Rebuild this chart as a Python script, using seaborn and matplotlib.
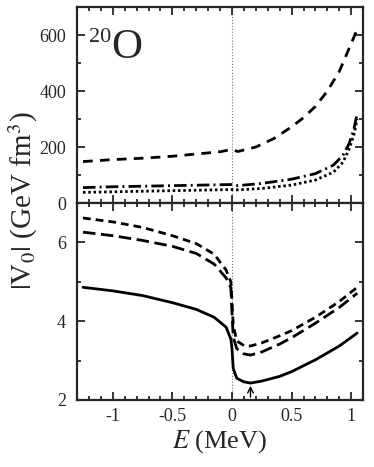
import numpy as np
import pandas as pd
import matplotlib
matplotlib.use('Agg')
import matplotlib.pyplot as plt
from matplotlib.ticker import MultipleLocator
import seaborn as sns

# ── values ──────────────────────────────────────────────────────────────────
# top panel (GeV fm^3)
e_top_dash = [-1.25, -1.0, -0.75, -0.5, -0.25, -0.1, -0.02, 0.0, 0.05, 0.2,
              0.35, 0.5, 0.6, 0.7, 0.8, 0.9, 0.97, 1.04]
v_top_dash = [148, 155, 160, 167, 177, 183, 190, 190, 184, 200,
              230, 272, 305, 345, 400, 470, 540, 610]

e_top_dashdot = [-1.25, -1.0, -0.5, 0.0, 0.05, 0.25, 0.5, 0.7, 0.85, 0.93,
                 0.98, 1.02, 1.05]
v_top_dashdot = [55, 58, 62, 66, 62, 70, 85, 105, 135, 170, 210, 260, 320]

e_top_dot = [-1.25, -1.0, -0.5, 0.0, 0.05, 0.25, 0.5, 0.7, 0.85, 0.93,
             0.98, 1.02, 1.05]
v_top_dot = [38, 40, 44, 48, 47, 52, 64, 82, 110, 145, 190, 240, 300]

# bottom panel
e_bot = [-1.25, -1.0, -0.75, -0.5, -0.3, -0.15, -0.05, -0.01, 0.0, 0.01,
         0.04, 0.1, 0.155, 0.25, 0.4, 0.5, 0.7, 0.9, 1.05]
v_bot_solid = [4.86, 4.77, 4.65, 4.47, 4.30, 4.10, 3.85, 3.55, 3.30, 2.80,
               2.55, 2.46, 2.43, 2.48, 2.60, 2.72, 3.02, 3.37, 3.70]
v_bot_longdash = [6.26, 6.17, 6.05, 5.90, 5.72, 5.45, 5.10, 4.85, 4.20, 3.60,
                  3.30, 3.17, 3.14, 3.22, 3.42, 3.58, 3.95, 4.35, 4.71]
v_bot_shortdash = [6.62, 6.52, 6.38, 6.17, 5.97, 5.70, 5.30, 5.00, 4.50, 3.90,
                   3.50, 3.38, 3.37, 3.45, 3.63, 3.76, 4.10, 4.50, 4.86]

e_arrow = 0.155

sns.set_style('ticks')
plt.rcParams['font.family'] = ['Liberation Serif', 'DejaVu Serif']
plt.rcParams['mathtext.fontset'] = 'stix'

fig = plt.figure(figsize=(3.74, 4.67), dpi=100)
ax_top = fig.add_axes([0.206, 0.5653, 0.765, 0.4197])
ax_bot = fig.add_axes([0.206, 0.1435, 0.765, 0.4218])

lw = 2.0
top = [(e_top_dash, v_top_dash, (3.5, 2.6)),
       (e_top_dashdot, v_top_dashdot, (4.5, 1.5, 0.7, 1.5)),
       (e_top_dot, v_top_dot, (0.9, 1.0))]
for e, v, dash in top:
    df = pd.DataFrame({'E': e, 'V': v})
    l = sns.lineplot(data=df, x='E', y='V', ax=ax_top, color='black', lw=lw)
    l.get_lines()[-1].set_dashes(dash)

bot = [(v_bot_solid, None), (v_bot_longdash, (4.5, 2.0)), (v_bot_shortdash, (2.8, 1.8))]
for v, dash in bot:
    df = pd.DataFrame({'E': e_bot, 'V': v})
    l = sns.lineplot(data=df, x='E', y='V', ax=ax_bot, color='black', lw=lw)
    if dash:
        l.get_lines()[-1].set_dashes(dash)

for ax in (ax_top, ax_bot):
    ax.axvline(0, color='#777777', lw=0.8, ls=':', zorder=0)
    ax.set_xlim(-1.3, 1.1)
    ax.xaxis.set_major_locator(MultipleLocator(0.5))
    ax.xaxis.set_minor_locator(MultipleLocator(0.1))
    ax.tick_params(which='both', direction='in', top=True, right=True,
                   labelsize=13, width=1.3)
    ax.tick_params(which='major', length=6, pad=8)
    ax.tick_params(which='minor', length=3)
    ax.tick_params(axis='x', which='major', pad=6)
    for s in ax.spines.values():
        s.set_linewidth(1.6)
    ax.set_xlabel('')
    ax.set_ylabel('')

ax_top.set_ylim(0, 700)
ax_top.set_yticks([0, 200, 400, 600])
ax_top.yaxis.set_minor_locator(MultipleLocator(100))
ax_top.tick_params(labelbottom=False)
# nucleus label: small mass number, big symbol
ax_top.text(-1.20, 575, '20', fontsize=16)
ax_top.text(-1.015, 518, 'O', fontsize=31)

ax_bot.set_ylim(2, 7)
ax_bot.set_yticks([2, 4, 6])
ax_bot.yaxis.set_minor_locator(MultipleLocator(1))
ax_bot.set_xticks([-1, -0.5, 0, 0.5, 1])
ax_bot.set_xticklabels(['-1', '-0.5', '0', '0.5', '1'])
ax_bot.annotate('', xy=(e_arrow, 2.43), xytext=(e_arrow, 2.0),
                arrowprops=dict(arrowstyle='->', color='black', lw=1.0))
ax_bot.set_xlabel(r'$E$ (MeV)', fontsize=19, labelpad=2)

fig.text(0.062, 0.57, r'$|\mathrm{V}_0|$ (GeV fm$^3$)', rotation=90, fontsize=21,
         ha='center', va='center')

fig.savefig('out.png', dpi=100)
